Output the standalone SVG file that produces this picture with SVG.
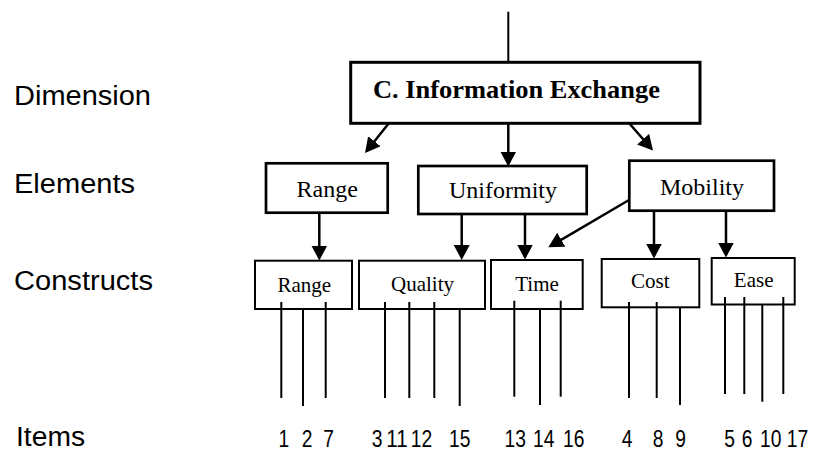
<svg xmlns="http://www.w3.org/2000/svg" width="814" height="452" viewBox="0 0 814 452">
  <style>
    .box { fill: #fff; stroke: #000; }
    .dim { stroke-width: 3; }
    .elem { stroke-width: 2.7; }
    .cons { stroke-width: 2; }
    .serif { font-family: "Liberation Serif", "Times New Roman", serif; fill: #000; text-anchor: middle; }
    .lvl { font-family: "Liberation Sans", Arial, sans-serif; font-size: 27px; fill: #000; }
    .num { font-family: "Liberation Sans", Arial, sans-serif; font-size: 24px; fill: #000; text-anchor: middle; }
    .arrow { stroke: #000; stroke-width: 2.5; fill: none; marker-end: url(#head); }
    .item { stroke: #000; stroke-width: 2; fill: none; }
  </style>
  <defs>
    <marker id="head" markerUnits="userSpaceOnUse" markerWidth="17" markerHeight="17" refX="12" refY="8" orient="auto">
      <path d="M0,0 L15,8 L0,16 z" fill="#000"/>
    </marker>
  </defs>
  <rect width="814" height="452" fill="#fff"/>

  <!-- level captions -->
  <g id="levels">
    <text class="lvl" x="14" y="105" textLength="137" lengthAdjust="spacingAndGlyphs">Dimension</text>
    <text class="lvl" x="14" y="193" textLength="121" lengthAdjust="spacingAndGlyphs">Elements</text>
    <text class="lvl" x="14" y="290" textLength="139" lengthAdjust="spacingAndGlyphs">Constructs</text>
    <text class="lvl" x="16" y="446" textLength="69" lengthAdjust="spacingAndGlyphs">Items</text>
  </g>

  <!-- connectors -->
  <g id="connectors">
    <line x1="508.3" y1="11.7" x2="508.3" y2="62" stroke="#000" stroke-width="2"/>
    <line class="arrow" x1="389" y1="123" x2="366.9" y2="150.7"/>
    <line class="arrow" x1="508.3" y1="123" x2="508.3" y2="163.5"/>
    <line class="arrow" x1="629" y1="123" x2="651" y2="148.2"/>
    <line class="arrow" x1="319.3" y1="213" x2="319.3" y2="257.5"/>
    <line class="arrow" x1="461.7" y1="214" x2="461.7" y2="257"/>
    <line class="arrow" x1="525" y1="214" x2="525" y2="256.5"/>
    <line class="arrow" x1="629" y1="200" x2="550.9" y2="245.8"/>
    <line class="arrow" x1="654" y1="211" x2="654" y2="255.5"/>
    <line class="arrow" x1="726" y1="211" x2="726" y2="254.5"/>
  </g>

  <!-- dimension -->
  <g id="dimension">
    <rect class="box dim" x="350.7" y="62.3" width="349.3" height="61"/>
    <text class="serif" x="516.4" y="98.3" font-size="26" font-weight="bold" textLength="287" lengthAdjust="spacingAndGlyphs">C. Information Exchange</text>
  </g>

  <!-- elements -->
  <g id="el-range">
    <rect class="box elem" x="266" y="163.3" width="121.7" height="49.4"/>
    <text class="serif" x="327.2" y="197" font-size="24">Range</text>
  </g>
  <g id="el-uniformity">
    <rect class="box elem" x="418.3" y="166" width="168.4" height="48"/>
    <text class="serif" x="503" y="198" font-size="24">Uniformity</text>
  </g>
  <g id="el-mobility">
    <rect class="box elem" x="629.3" y="160.7" width="144.7" height="50"/>
    <text class="serif" x="702" y="195" font-size="24">Mobility</text>
  </g>

  <!-- item lines -->
  <g id="item-lines">
    <line class="item" x1="281.3" y1="302" x2="281.3" y2="398"/>
    <line class="item" x1="303" y1="309" x2="303" y2="406"/>
    <line class="item" x1="325.7" y1="302" x2="325.7" y2="398"/>
    <line class="item" x1="385" y1="302" x2="385" y2="398"/>
    <line class="item" x1="409.3" y1="302" x2="409.3" y2="398"/>
    <line class="item" x1="434.3" y1="302" x2="434.3" y2="398"/>
    <line class="item" x1="459.7" y1="309" x2="459.7" y2="406"/>
    <line class="item" x1="514.3" y1="300.7" x2="514.3" y2="396.7"/>
    <line class="item" x1="540" y1="309" x2="540" y2="405"/>
    <line class="item" x1="560.7" y1="300.7" x2="560.7" y2="396.7"/>
    <line class="item" x1="629" y1="302" x2="629" y2="398"/>
    <line class="item" x1="656.7" y1="302" x2="656.7" y2="398"/>
    <line class="item" x1="680" y1="307" x2="680" y2="405"/>
    <line class="item" x1="725" y1="297" x2="725" y2="394"/>
    <line class="item" x1="744.3" y1="297" x2="744.3" y2="394"/>
    <line class="item" x1="762.3" y1="305" x2="762.3" y2="401.7"/>
    <line class="item" x1="783.3" y1="297" x2="783.3" y2="394"/>
  </g>

  <!-- constructs -->
  <g id="co-range">
    <rect class="box cons" x="255" y="260.7" width="97" height="48.3" fill-opacity="0"/>
    <text class="serif" x="304.3" y="291.7" font-size="21">Range</text>
  </g>
  <g id="co-quality">
    <rect class="box cons" x="359" y="260.7" width="126" height="48.3" fill-opacity="0"/>
    <text class="serif" x="422.5" y="291" font-size="21">Quality</text>
  </g>
  <g id="co-time">
    <rect class="box cons" x="491" y="260" width="91.7" height="49" fill-opacity="0"/>
    <text class="serif" x="537" y="290.7" font-size="21">Time</text>
  </g>
  <g id="co-cost">
    <rect class="box cons" x="601.7" y="259" width="97.6" height="48.3" fill-opacity="0"/>
    <text class="serif" x="650.3" y="288.3" font-size="21">Cost</text>
  </g>
  <g id="co-ease">
    <rect class="box cons" x="711.7" y="258" width="83" height="46.5" fill-opacity="0"/>
    <text class="serif" x="753.7" y="286.7" font-size="21">Ease</text>
  </g>

  <!-- item numbers -->
  <g id="items">
    <text class="num" x="283.8" y="447" textLength="10.7" lengthAdjust="spacingAndGlyphs">1</text>
    <text class="num" x="307.2" y="447" textLength="10.7" lengthAdjust="spacingAndGlyphs">2</text>
    <text class="num" x="328.7" y="447" textLength="10.7" lengthAdjust="spacingAndGlyphs">7</text>
    <text class="num" x="377" y="447" textLength="10.7" lengthAdjust="spacingAndGlyphs">3</text>
    <text class="num" x="397" y="447" textLength="21.4" lengthAdjust="spacingAndGlyphs">11</text>
    <text class="num" x="421.5" y="447" textLength="21.4" lengthAdjust="spacingAndGlyphs">12</text>
    <text class="num" x="459.7" y="447" textLength="21.4" lengthAdjust="spacingAndGlyphs">15</text>
    <text class="num" x="515.2" y="447" textLength="21.4" lengthAdjust="spacingAndGlyphs">13</text>
    <text class="num" x="543.7" y="447" textLength="21.4" lengthAdjust="spacingAndGlyphs">14</text>
    <text class="num" x="573.7" y="447" textLength="21.4" lengthAdjust="spacingAndGlyphs">16</text>
    <text class="num" x="627.2" y="447" textLength="10.7" lengthAdjust="spacingAndGlyphs">4</text>
    <text class="num" x="658" y="447" textLength="10.7" lengthAdjust="spacingAndGlyphs">8</text>
    <text class="num" x="680.5" y="447" textLength="10.7" lengthAdjust="spacingAndGlyphs">9</text>
    <text class="num" x="729.7" y="447" textLength="10.7" lengthAdjust="spacingAndGlyphs">5</text>
    <text class="num" x="747.2" y="447" textLength="10.7" lengthAdjust="spacingAndGlyphs">6</text>
    <text class="num" x="770.8" y="447" textLength="21.4" lengthAdjust="spacingAndGlyphs">10</text>
    <text class="num" x="797.5" y="447" textLength="21.4" lengthAdjust="spacingAndGlyphs">17</text>
  </g>
</svg>
